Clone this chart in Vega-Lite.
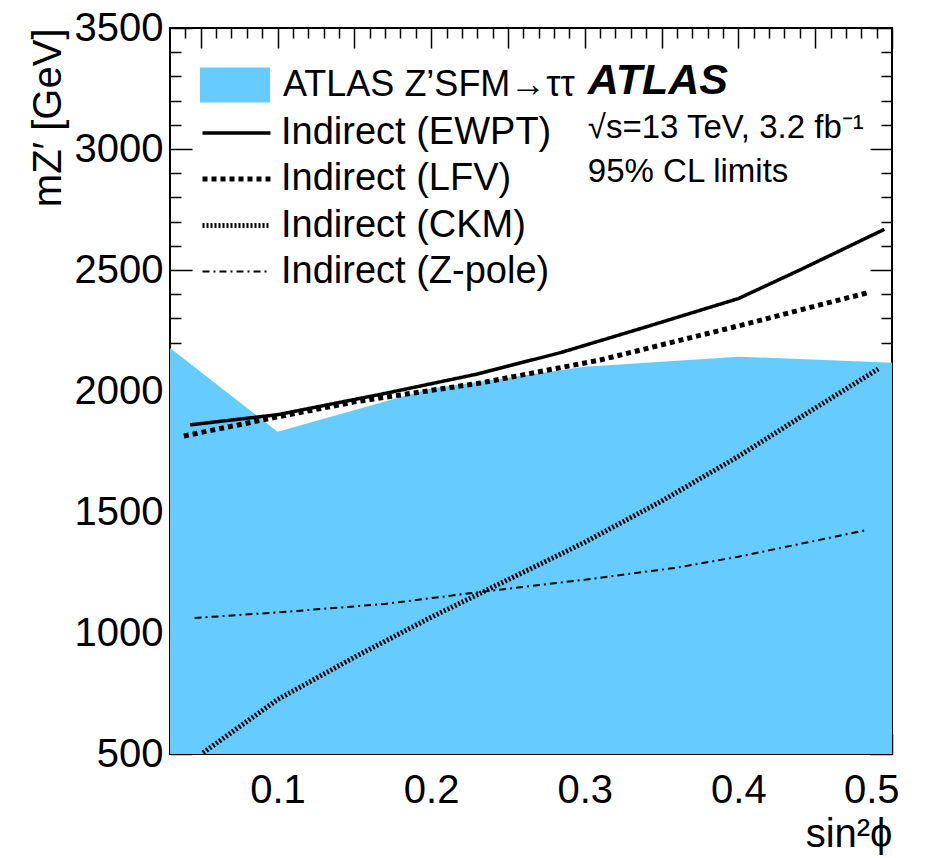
{
  "$schema": "https://vega.github.io/schema/vega-lite/v6.json",
  "width": 722,
  "height": 726,
  "autosize": {"type": "none"},
  "padding": {"left": 170, "top": 28, "right": 40, "bottom": 104},
  "background": "white",
  "config": {
    "view": {"stroke": "black", "strokeWidth": 2},
    "font": "Liberation Sans",
    "axis": {
      "grid": false, "domain": false, "tickColor": "black", "tickWidth": 1.5,
      "labelColor": "black", "titleColor": "black", "labelFont": "Liberation Sans",
      "titleFont": "Liberation Sans", "labelFontSize": 40, "titleFontSize": 40,
      "titleFontWeight": "normal"
    },
    "legend": {"labelFont": "Liberation Sans", "labelColor": "black", "padding": 0, "labelLimit": 0}
  },
  "datasets": {
    "atlas": [
      {"name": "ATLAS Z’SFM→ττ", "x": 0.03, "m": 2178},
      {"name": "ATLAS Z’SFM→ττ", "x": 0.1, "m": 1832},
      {"name": "ATLAS Z’SFM→ττ", "x": 0.2, "m": 2010},
      {"name": "ATLAS Z’SFM→ττ", "x": 0.3, "m": 2100},
      {"name": "ATLAS Z’SFM→ττ", "x": 0.4, "m": 2142},
      {"name": "ATLAS Z’SFM→ττ", "x": 0.5, "m": 2117}
    ],
    "lines": [
      {"series": "Indirect (EWPT)", "x": 0.043, "m": 1860},
      {"series": "Indirect (EWPT)", "x": 0.1, "m": 1902},
      {"series": "Indirect (EWPT)", "x": 0.17, "m": 1990},
      {"series": "Indirect (EWPT)", "x": 0.23, "m": 2070},
      {"series": "Indirect (EWPT)", "x": 0.285, "m": 2160},
      {"series": "Indirect (EWPT)", "x": 0.34, "m": 2265},
      {"series": "Indirect (EWPT)", "x": 0.4, "m": 2382},
      {"series": "Indirect (EWPT)", "x": 0.44, "m": 2500},
      {"series": "Indirect (EWPT)", "x": 0.495, "m": 2668},
      {"series": "Indirect (LFV)", "x": 0.039, "m": 1814},
      {"series": "Indirect (LFV)", "x": 0.09, "m": 1880},
      {"series": "Indirect (LFV)", "x": 0.15, "m": 1955},
      {"series": "Indirect (LFV)", "x": 0.232, "m": 2033},
      {"series": "Indirect (LFV)", "x": 0.31, "m": 2128},
      {"series": "Indirect (LFV)", "x": 0.4, "m": 2269},
      {"series": "Indirect (LFV)", "x": 0.484, "m": 2406},
      {"series": "Indirect (CKM)", "x": 0.0515, "m": 505},
      {"series": "Indirect (CKM)", "x": 0.1, "m": 725},
      {"series": "Indirect (CKM)", "x": 0.15, "m": 900},
      {"series": "Indirect (CKM)", "x": 0.2, "m": 1065},
      {"series": "Indirect (CKM)", "x": 0.25, "m": 1220},
      {"series": "Indirect (CKM)", "x": 0.3, "m": 1375},
      {"series": "Indirect (CKM)", "x": 0.35, "m": 1545},
      {"series": "Indirect (CKM)", "x": 0.4, "m": 1730},
      {"series": "Indirect (CKM)", "x": 0.44, "m": 1890},
      {"series": "Indirect (CKM)", "x": 0.491, "m": 2091},
      {"series": "Indirect (Z-pole)", "x": 0.046, "m": 1062},
      {"series": "Indirect (Z-pole)", "x": 0.1, "m": 1085},
      {"series": "Indirect (Z-pole)", "x": 0.17, "m": 1120},
      {"series": "Indirect (Z-pole)", "x": 0.235, "m": 1172},
      {"series": "Indirect (Z-pole)", "x": 0.3, "m": 1220},
      {"series": "Indirect (Z-pole)", "x": 0.36, "m": 1270},
      {"series": "Indirect (Z-pole)", "x": 0.4, "m": 1315},
      {"series": "Indirect (Z-pole)", "x": 0.44, "m": 1368},
      {"series": "Indirect (Z-pole)", "x": 0.484, "m": 1426}
    ],
    "notes": [
      {"label": "ATLAS"}
    ],
    "notes2": [
      {"label": "√s=13 TeV, 3.2 fb⁻¹"}
    ],
    "notes3": [
      {"label": "95% CL limits"}
    ]
  },
  "layer": [
    {
      "data": {"name": "atlas"},
      "mark": {"type": "area", "clip": true},
      "encoding": {
        "x": {
          "field": "x", "type": "quantitative",
          "scale": {"domain": [0.03, 0.5], "nice": false, "zero": false},
          "axis": {
            "orient": "bottom",
            "values": [0.05, 0.1, 0.15, 0.2, 0.25, 0.3, 0.35, 0.4, 0.45, 0.5],
            "tickSize": -20, "labelPadding": 36, "labelFlush": true, "labelFlushOffset": 7,
            "labelExpr": "abs(datum.value*10 - round(datum.value*10)) < 0.001 ? format(datum.value, '.1f') : ''",
            "title": "sin²ϕ", "titleAnchor": "end", "titleAlign": "right", "titlePadding": 4
          }
        },
        "y": {
          "field": "m", "type": "quantitative",
          "scale": {"domain": [500, 3500], "nice": false, "zero": false},
          "axis": {
            "orient": "left",
            "values": [500, 1000, 1500, 2000, 2500, 3000, 3500],
            "tickSize": -22, "labelPadding": 29, "format": "d",
            "title": "mZ′ [GeV]", "titleAnchor": "end", "titlePadding": 6
          }
        },
        "fill": {
          "field": "name", "type": "nominal",
          "scale": {"range": ["#66ccff"]},
          "legend": {
            "orient": "none", "legendX": 30, "legendY": 22, "title": null,
            "symbolType": "M-1,-0.5H1V0.5H-1Z", "symbolSize": 4900,
            "symbolStrokeWidth": 0, "symbolOpacity": 1,
            "labelFontSize": 36, "labelOffset": 13
          }
        }
      }
    },
    {
      "data": {"name": "lines"},
      "mark": {"type": "line", "color": "black", "clip": true, "strokeCap": "butt"},
      "encoding": {
        "x": {
          "field": "x", "type": "quantitative",
          "axis": {
            "orient": "bottom",
            "values": [0.04, 0.06, 0.07, 0.08, 0.09, 0.11, 0.12, 0.13, 0.14, 0.16, 0.17, 0.18, 0.19, 0.21, 0.22, 0.23, 0.24, 0.26, 0.27, 0.28, 0.29, 0.31, 0.32, 0.33, 0.34, 0.36, 0.37, 0.38, 0.39, 0.41, 0.42, 0.43, 0.44, 0.46, 0.47, 0.48, 0.49],
            "tickSize": -10, "labels": false, "title": null
          }
        },
        "y": {
          "field": "m", "type": "quantitative",
          "axis": {
            "orient": "left",
            "values": [600, 700, 800, 900, 1100, 1200, 1300, 1400, 1600, 1700, 1800, 1900, 2100, 2200, 2300, 2400, 2600, 2700, 2800, 2900, 3100, 3200, 3300, 3400],
            "tickSize": -11, "labels": false, "title": null
          }
        },
        "strokeDash": {
          "field": "series", "type": "nominal",
          "scale": {
            "domain": ["Indirect (EWPT)", "Indirect (LFV)", "Indirect (CKM)", "Indirect (Z-pole)"],
            "range": [[1, 0], [5, 4], [2, 2], [7, 4, 2, 4]]
          },
          "legend": {
            "orient": "none", "legendX": 47, "legendY": 86, "title": null,
            "symbolType": "M-2,0H2", "symbolSize": 1156, "symbolStrokeColor": "black",
            "labelFontSize": 38, "labelOffset": 25, "rowPadding": 7.5
          }
        },
        "strokeWidth": {
          "field": "series", "type": "nominal",
          "scale": {
            "type": "ordinal",
            "domain": ["Indirect (EWPT)", "Indirect (LFV)", "Indirect (CKM)", "Indirect (Z-pole)"],
            "range": [3.5, 5, 5, 2]
          },
          "legend": {
            "orient": "none", "legendX": 47, "legendY": 86, "title": null,
            "symbolType": "M-2,0H2", "symbolSize": 1156, "symbolStrokeColor": "black",
            "labelFontSize": 38, "labelOffset": 25, "rowPadding": 7.5
          }
        }
      }
    },
    {
      "data": {"name": "atlas"},
      "mark": {"type": "point", "opacity": 0},
      "encoding": {
        "x": {
          "field": "x", "type": "quantitative",
          "axis": {
            "orient": "top",
            "values": [0.05, 0.1, 0.15, 0.2, 0.25, 0.3, 0.35, 0.4, 0.45, 0.5],
            "tickSize": -20, "labels": false, "title": null
          }
        },
        "y": {
          "field": "m", "type": "quantitative",
          "axis": {
            "orient": "right",
            "values": [500, 1000, 1500, 2000, 2500, 3000, 3500],
            "tickSize": -22, "labels": false, "title": null
          }
        }
      }
    },
    {
      "data": {"name": "atlas"},
      "mark": {"type": "point", "opacity": 0},
      "encoding": {
        "x": {
          "field": "x", "type": "quantitative",
          "axis": {
            "orient": "top",
            "values": [0.04, 0.06, 0.07, 0.08, 0.09, 0.11, 0.12, 0.13, 0.14, 0.16, 0.17, 0.18, 0.19, 0.21, 0.22, 0.23, 0.24, 0.26, 0.27, 0.28, 0.29, 0.31, 0.32, 0.33, 0.34, 0.36, 0.37, 0.38, 0.39, 0.41, 0.42, 0.43, 0.44, 0.46, 0.47, 0.48, 0.49],
            "tickSize": -10, "labels": false, "title": null
          }
        },
        "y": {
          "field": "m", "type": "quantitative",
          "axis": {
            "orient": "right",
            "values": [600, 700, 800, 900, 1100, 1200, 1300, 1400, 1600, 1700, 1800, 1900, 2100, 2200, 2300, 2400, 2600, 2700, 2800, 2900, 3100, 3200, 3300, 3400],
            "tickSize": -11, "labels": false, "title": null
          }
        }
      }
    },
    {
      "data": {"name": "notes"},
      "mark": {"type": "text", "font": "Liberation Sans", "fontSize": 43, "fontWeight": "bold", "fontStyle": "italic", "align": "left", "baseline": "middle", "color": "black"},
      "encoding": {
        "text": {"field": "label"},
        "x": {"datum": 0.302, "type": "quantitative", "axis": null},
        "y": {"datum": 3280, "type": "quantitative", "axis": null}
      }
    },
    {
      "data": {"name": "notes2"},
      "mark": {"type": "text", "font": "Liberation Sans", "fontSize": 33, "align": "left", "baseline": "middle", "color": "black"},
      "encoding": {
        "text": {"field": "label"},
        "x": {"datum": 0.302, "type": "quantitative", "axis": null},
        "y": {"datum": 3085, "type": "quantitative", "axis": null}
      }
    },
    {
      "data": {"name": "notes3"},
      "mark": {"type": "text", "font": "Liberation Sans", "fontSize": 33, "align": "left", "baseline": "middle", "color": "black"},
      "encoding": {
        "text": {"field": "label"},
        "x": {"datum": 0.302, "type": "quantitative", "axis": null},
        "y": {"datum": 2905, "type": "quantitative", "axis": null}
      }
    }
  ],
  "resolve": {"axis": {"x": "independent", "y": "independent"}}
}
